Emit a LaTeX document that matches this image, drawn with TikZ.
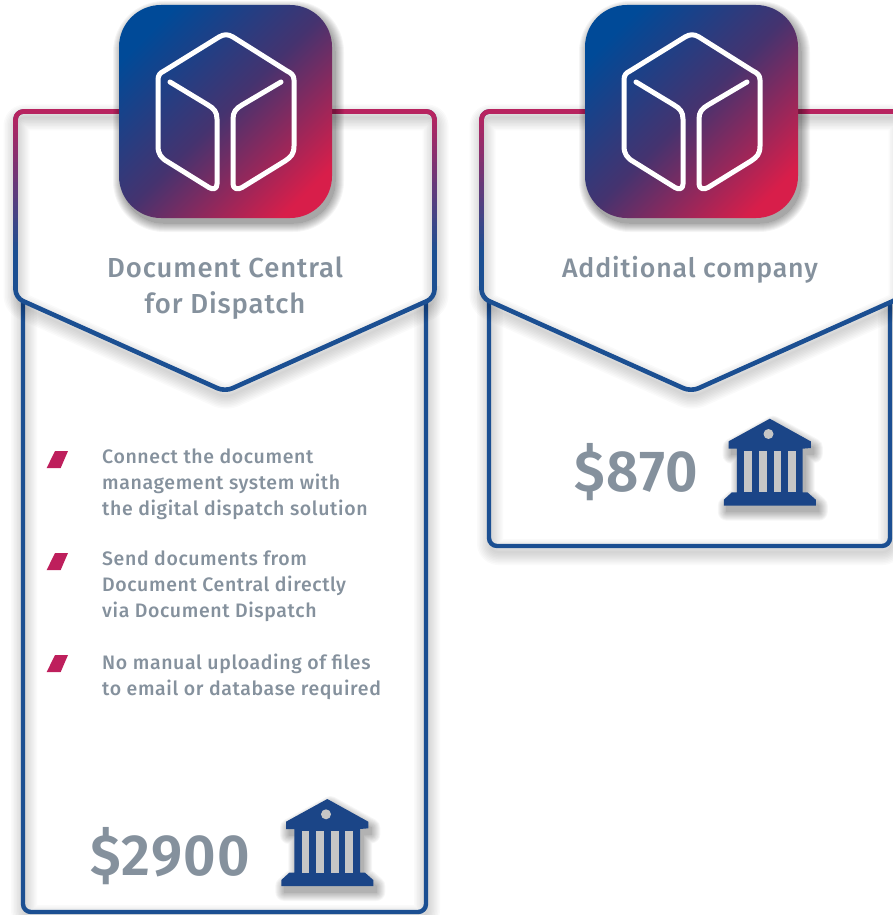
\documentclass[tikz,border=0pt]{standalone}
\usepackage{fontspec}
\setmainfont{Fira Sans Medium}[LetterSpace=3.2]
\newfontfamily\pricefont{Fira Sans SemiBold}[LetterSpace=2.4,FakeStretch=0.97]
\definecolor{navy}{HTML}{1B4F92}
\definecolor{crim}{HTML}{B8235F}
\definecolor{iconblue}{HTML}{004A98}
\definecolor{iconmid}{HTML}{45336F}
\definecolor{iconred}{HTML}{D81E4A}
\definecolor{slate}{HTML}{85919D}
\definecolor{bankblue}{HTML}{1B4587}
\definecolor{bankgap}{HTML}{C6C6C6}
\definecolor{bulletc}{HTML}{BE1F5C}
\pgfdeclareverticalshading{icongrad}{100bp}{color(0bp)=(iconred); color(23bp)=(iconred); color(50bp)=(iconmid); color(76bp)=(iconblue); color(100bp)=(iconblue)}
\newcommand\headerpath{(15.5,111.5) -- (434.5,111.5) -- (434.5,297.7) -- (225,391.6) -- (15.5,297.7) -- cycle}
\newcommand\softshadow[3]{% path, dx, dy
  \foreach \w in {26,23,...,2}{
    \draw[line width=\w pt, black, opacity=.02, line join=round, rounded corners=8, shift={(#2,#3)}] #1;
  }}
\newcommand\softfill[5]{% path, dx, dy, opacity, max width
  \foreach \w in {#5,...,0}{
    \begin{scope}[transparency group, opacity=#4]
    \path[fill=black, draw=black, line width=2*\w pt, line join=round, shift={(#2,#3)}] #1;
    \end{scope}
  }}
\newcommand\iconpath{[rounded corners=42] (119,5) -- (332,5) -- (332,218) -- (119,218) -- cycle}
\newcommand\bankpath{(327.3,799) -- (368.3,821.7) -- (368.3,828.3) -- (360,829) -- (360,872.7) -- (365,872.7) -- (373.3,880) -- (373.3,886) -- (281.3,886) -- (281.3,880) -- (289.3,872.7) -- (294.3,872.7) -- (294.3,829) -- (286,829) -- (286,821.7) -- cycle}
\newcommand\bankicon{%
  \softfill{\bankpath}{3}{6}{.035}{9}
  \fill[bankblue] \bankpath;
  \fill[bankgap] (301.7,831) rectangle (309.3,872.7);
  \fill[bankgap] (316.3,831) rectangle (324,872.7);
  \fill[bankgap] (331,831) rectangle (338.7,872.7);
  \fill[bankgap] (345.3,831) rectangle (353.3,872.7);
  \fill[bankgap] (326,814.3) circle (5);
}
\newcommand\cardhead{%
  \fill[white, rounded corners=8] \headerpath;
  \softshadow{\headerpath}{1}{6}
  \draw[line width=4.6pt, navy, rounded corners=8, line join=round] \headerpath;
  \foreach \yy in {106,110,...,254}{
    \pgfmathsetmacro\pp{min(100,max(0,(\yy-112)/(250-112)*100))}
    \begin{scope}
      \clip (0,\yy) rectangle (460,\yy+4.6);
      \draw[line width=4.6pt, color={navy!\pp!crim}, rounded corners=8, line join=round] \headerpath;
    \end{scope}
  }
}
\newcommand\cardicon{%
  \softfill{\iconpath}{3}{5}{.04}{9}
  \shade[shading=icongrad, shading angle=45] \iconpath;
  \draw[white, line width=5pt, line cap=round, line join=round]
    (170,82) -- (208,105) .. controls (214,108.5) and (217,112) .. (217,119) -- (217,184) .. controls (217,189) and (213,190) .. (209,187.5) -- (168,162) .. controls (161,158) and (158,154) .. (158,146) -- (158,80) .. controls (158,75) and (160,73) .. (164,71) -- (219,37) .. controls (224,34) and (228,34) .. (233,37) -- (287,71) .. controls (291,73) and (294,75) .. (294,80) -- (294,146) .. controls (294,154) and (291,157) .. (285,161) -- (242,187.5) .. controls (238,190) and (233,189) .. (233,184) -- (233,119) .. controls (233,112) and (236,108.5) .. (242,105) -- (281,82);
}
\begin{document}
\begin{tikzpicture}[x=1pt,y=-1pt,
  headtext/.style={font=\fontsize{27.5}{35.5}\selectfont, text=slate, align=center, inner sep=0pt},
  bodytext/.style={font=\fontsize{19.5}{25.6}\selectfont, text=slate, align=left, anchor=north west, inner sep=0pt},
  price/.style={font=\fontsize{58}{58}\pricefont, text=slate, inner sep=0pt, anchor=base west},
  bulletmark/.style={fill=bulletc}]
\useasboundingbox (0,0) rectangle (893,915);
\clip (0,0) rectangle (893,915);
% card 1 body
\softshadow{(23,280) -- (23,912) -- (426,912) -- (426,280)}{1}{6}
\draw[line width=4.4pt, navy, rounded corners=8] (23,280) -- (23,912) -- (426,912) -- (426,280);
\cardhead
\cardicon
\node[headtext] (title1) at (225,288) {Document Central\\for Dispatch};
\foreach \yb in {451,553,655}{
  \fill[bulletmark] (55,\yb) -- (68,\yb) -- (60.7,\yb+17) -- (46.7,\yb+17) -- cycle;
}
\node[bodytext] (b1) at (102,449) {Connect the document\\management system with\\the digital dispatch solution};
\node[bodytext] (b2) at (102,551) {Send documents from\\Document Central directly\\via Document Dispatch};
\node[bodytext] (b3) at (102,654) {No manual uploading of files\\to email or database required};
\node[price] (p1) at (90,875) {\$2900};
\bankicon
% card 2
\begin{scope}[shift={(466,0)}]
\softshadow{(23,280) -- (23,546) -- (424,546) -- (424,280)}{1}{6}
\draw[line width=4.4pt, navy, rounded corners=8] (23,280) -- (23,546) -- (424,546) -- (424,280);
\cardhead
\cardicon
\end{scope}
\node[headtext, font=\fontsize{26.7}{35.5}\selectfont] (title2) at (690,270) {Additional company};
\node[price] (p2) at (574,491) {\$870};
\begin{scope}[shift={(442.5,-380.3)}]
\bankicon
\end{scope}
\end{tikzpicture}
\end{document}
